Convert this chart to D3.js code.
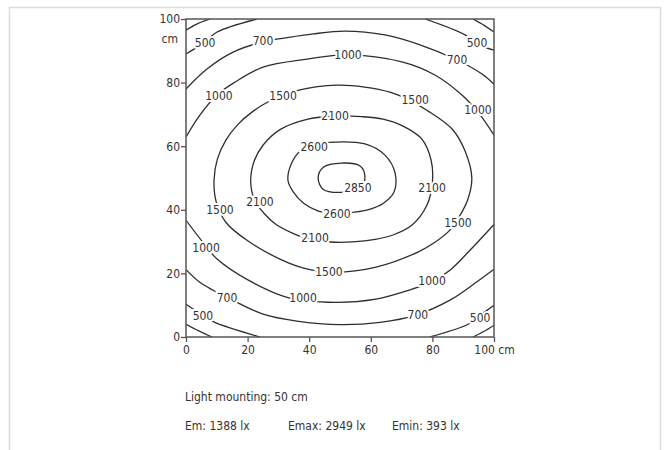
<!DOCTYPE html>
<html>
<head>
<meta charset="utf-8">
<script src="https://cdn.jsdelivr.net/npm/d3@7"></script>
<style>
  html, body { margin: 0; padding: 0; background: #fff; }
  svg { display: block; }
  text { font-family: "DejaVu Sans Condensed", "DejaVu Sans", sans-serif; font-stretch: condensed; fill: #333; }
</style>
</head>
<body>
<svg id="chart" width="666" height="450"></svg>
<script>
// isolux lines, in cm (x across, y up)
const ring2850 = [[42.9, 50.0], [44.6, 53.4], [50.5, 54.7], [56.5, 53.8], [58.1, 50.5], [56.8, 47.0], [50.5, 45.5], [44.6, 46.4]];
const ring2600 = [[33.1, 49.3], [34.2, 54.5], [37.2, 58.6], [42.0, 60.6], [48.4, 61.3], [58.1, 60.7], [64.6, 57.2],
  [67.9, 51.5], [67.5, 45.5], [64.0, 42.0], [59.0, 40.0], [54.2, 39.2], [48.4, 38.6], [43.0, 39.6], [38.3, 42.0], [34.7, 45.8]];
const ring2100 = [[21.0, 49.0], [22.2, 55.5], [25.0, 60.3], [30.5, 65.2], [39.6, 68.5], [48.4, 69.5], [57.0, 69.3],
  [64.0, 68.5], [70.5, 66.3], [76.6, 62.2], [79.6, 55.5], [80.0, 48.7], [78.2, 41.4], [73.4, 35.2], [67.0, 32.0],
  [61.4, 30.7], [54.0, 29.9], [48.4, 29.8], [40.5, 30.6], [34.7, 32.6], [29.5, 35.2], [25.6, 38.6], [22.3, 43.0]];
const ring1500 = [[9.1, 49.3], [10.2, 56.0], [13.0, 62.0], [16.8, 66.8], [21.5, 70.8], [26.6, 73.9], [37.0, 77.7],
  [49.0, 79.2], [58.0, 78.6], [66.2, 77.0], [72.5, 74.5], [78.2, 71.3], [86.4, 65.4], [90.6, 58.5], [92.8, 50.0],
  [91.4, 43.0], [88.5, 37.5], [85.7, 33.6], [80.7, 29.7], [75.3, 26.7], [61.4, 21.9], [48.4, 20.4], [38.5, 21.6],
  [30.5, 24.5], [19.8, 30.4], [13.0, 36.0], [9.8, 42.5]];
const arc1000Top = [[0, 62.9], [4.5, 69.8], [10.4, 76.4], [16.0, 80.2], [25.0, 84.9], [39.3, 87.4], [52.3, 88.7],
  [70.1, 86.5], [80.8, 82.4], [89.6, 76.1], [94.8, 70.7], [100, 63.5]];
const arc1000Bottom = [[0, 36.7], [6.2, 28.9], [10.1, 24.5], [19.8, 18.1], [33.1, 12.4], [48.4, 10.9], [61.7, 11.9],
  [72.0, 14.6], [79.9, 17.5], [85.7, 21.0], [92.2, 27.3], [100, 35.4]];
const arc700Top = [[0, 78.0], [6.8, 84.3], [15.3, 89.6], [25.0, 92.8], [41.2, 95.3], [51.6, 96.2], [64.6, 95.0],
  [75.3, 92.1], [88.0, 87.1], [96.1, 82.7], [100, 79.5]];
const arc700Bottom = [[0, 21.2], [4.5, 17.2], [8.8, 14.7], [13.3, 12.5], [25.0, 7.2], [36.0, 5.0], [50.0, 3.9],
  [63.0, 4.6], [74.4, 6.8], [85.7, 11.6], [93.8, 16.9], [100, 21.3]];
const arc500 = [
  [[0, 89.0], [6.2, 92.8], [10.1, 95.9], [23.0, 100]],
  [[77.6, 100], [90.6, 95.0], [94.5, 92.1], [100, 90.2]],
  [[0, 10.3], [5.5, 6.8], [9.4, 4.6], [24.0, 0]],
  [[79.2, 0], [91.6, 4.0], [95.5, 6.8], [100, 10.0]]
];
const arcCorner = [
  [[0, 96.5], [3.5, 98.4], [7.8, 100]],
  [[93.2, 100], [96.8, 98.0], [100, 95.9]],
  [[0, 4.0], [4.0, 2.0], [8.4, 0]],
  [[93.2, 0], [96.8, 1.8], [100, 3.7]]
];

// labels: [text, x, y]
const contourLabels = [
  ['500', 6.2, 92.7], ['700', 25.0, 93.3], ['1000', 52.6, 88.7], ['500', 94.5, 92.4], ['700', 88.0, 87.1],
  ['1000', 10.7, 75.8], ['1500', 31.5, 75.8], ['1500', 74.4, 74.5], ['1000', 94.8, 71.4], ['2100', 48.4, 69.5],
  ['2600', 41.6, 59.7], ['2850', 55.8, 47.1], ['2100', 79.9, 47.1], ['2100', 24.0, 42.4], ['1500', 11.0, 39.9],
  ['2600', 49.0, 38.9], ['1500', 88.3, 36.1], ['2100', 41.9, 31.1], ['1000', 6.5, 28.2], ['1500', 46.4, 20.4],
  ['1000', 79.9, 17.8], ['700', 13.3, 12.5], ['1000', 38.0, 12.5], ['500', 5.5, 6.8], ['700', 75.3, 7.1],
  ['500', 95.5, 6.2]
];

const xTicks = [0, 20, 40, 60, 80, 100];
const yTicks = [0, 20, 40, 60, 80, 100];
const notes = ['Light mounting: 50 cm'];
const stats = ['Em: 1388 lx', 'Emax: 2949 lx', 'Emin: 393 lx'];

const svg = d3.select('#chart');

// outer light frame
svg.append('rect')
  .attr('x', 9.5).attr('y', 7.5).attr('width', 651).attr('height', 470)
  .attr('fill', 'none').attr('stroke', '#dcdcdc').attr('stroke-width', 1.5);

const x = d3.scaleLinear().domain([0, 100]).range([186, 494]);
const y = d3.scaleLinear().domain([0, 100]).range([337, 19]);

svg.append('clipPath').attr('id', 'plot-clip')
  .append('rect').attr('x', 186).attr('y', 19).attr('width', 308).attr('height', 318);

const g = svg.append('g').attr('clip-path', 'url(#plot-clip)');

const openLine = d3.line().x(d => x(d[0])).y(d => y(d[1])).curve(d3.curveCatmullRom.alpha(0.5));
const closedLine = d3.line().x(d => x(d[0])).y(d => y(d[1])).curve(d3.curveCatmullRomClosed.alpha(0.5));

const rings = [ring2850, ring2600, ring2100, ring1500];
const arcs = [arc1000Top, arc1000Bottom, arc700Top, arc700Bottom, ...arc500, ...arcCorner];

g.selectAll('path.ring').data(rings).enter().append('path')
  .attr('class', 'ring')
  .attr('d', closedLine)
  .attr('fill', 'none').attr('stroke', '#2e2e2e').attr('stroke-width', 1.3);

g.selectAll('path.arc').data(arcs).enter().append('path')
  .attr('class', 'arc')
  .attr('d', openLine)
  .attr('fill', 'none').attr('stroke', '#2e2e2e').attr('stroke-width', 1.3);

// labels cut a gap in their line with a white halo
svg.append('g').selectAll('text').data(contourLabels).enter().append('text')
  .attr('x', d => x(d[1])).attr('y', d => y(d[2]))
  .attr('dy', '0.36em')
  .attr('text-anchor', 'middle')
  .attr('font-size', '12px')
  .attr('stroke', '#fff').attr('stroke-width', 4).attr('paint-order', 'stroke')
  .text(d => d[0]);

// axes
const xAxis = svg.append('g').attr('transform', 'translate(0,337)')
  .call(d3.axisBottom(x).tickValues(xTicks).tickSize(5).tickPadding(3)
    .tickFormat(d => d === 100 ? '100 cm' : d));
const yAxis = svg.append('g').attr('transform', 'translate(186,0)')
  .call(d3.axisLeft(y).tickValues(yTicks).tickSize(5).tickPadding(1));

[xAxis, yAxis].forEach(a => {
  a.select('.domain').remove();
  a.selectAll('line').attr('stroke', '#555').attr('stroke-width', 1.3);
  a.selectAll('text').attr('font-size', '12px').attr('fill', '#333')
    .style('font-family', '"DejaVu Sans Condensed", "DejaVu Sans", sans-serif');
});

yAxis.append('text')
  .attr('x', -8).attr('y', y(100) + 24)
  .attr('text-anchor', 'end')
  .attr('font-size', '12px')
  .text('cm');

// plot box
svg.append('rect')
  .attr('x', 186).attr('y', 19).attr('width', 308).attr('height', 318)
  .attr('fill', 'none').attr('stroke', '#555').attr('stroke-width', 1.5);

// notes under the chart
svg.append('text').attr('x', 185).attr('y', 401).attr('font-size', '12px').text(notes[0]);
const statX = [185, 288, 392];
svg.append('g').selectAll('text').data(stats).enter().append('text')
  .attr('x', (d, i) => statX[i]).attr('y', 430)
  .attr('font-size', '12px')
  .text(d => d);
</script>
</body>
</html>
